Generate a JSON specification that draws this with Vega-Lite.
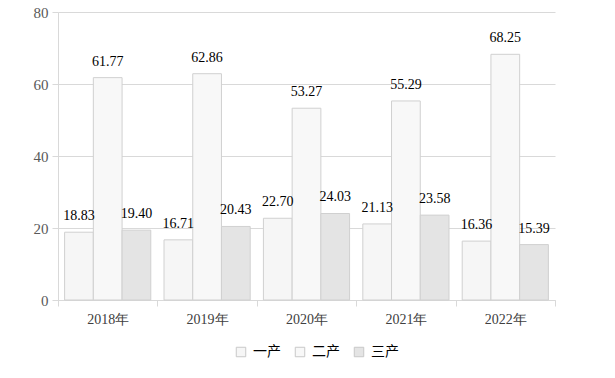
{
  "$schema": "https://vega.github.io/schema/vega-lite/v6.json",
  "width": 497,
  "height": 288,
  "autosize": "none",
  "padding": {"left": 58, "top": 12, "right": 60, "bottom": 78},
  "background": "white",
  "data": {
    "values": [
      {"year": "2018年", "type": "一产", "value": 18.83},
      {"year": "2018年", "type": "二产", "value": 61.77},
      {"year": "2018年", "type": "三产", "value": 19.40},
      {"year": "2019年", "type": "一产", "value": 16.71},
      {"year": "2019年", "type": "二产", "value": 62.86},
      {"year": "2019年", "type": "三产", "value": 20.43},
      {"year": "2020年", "type": "一产", "value": 22.70},
      {"year": "2020年", "type": "二产", "value": 53.27},
      {"year": "2020年", "type": "三产", "value": 24.03},
      {"year": "2021年", "type": "一产", "value": 21.13},
      {"year": "2021年", "type": "二产", "value": 55.29},
      {"year": "2021年", "type": "三产", "value": 23.58},
      {"year": "2022年", "type": "一产", "value": 16.36},
      {"year": "2022年", "type": "二产", "value": 68.25},
      {"year": "2022年", "type": "三产", "value": 15.39}
    ]
  },
  "encoding": {
    "x": {
      "field": "year", "type": "nominal", "sort": null,
      "scale": {"paddingInner": 0, "paddingOuter": 0},
      "axis": {
        "title": null, "labelAngle": 0, "tickBand": "extent",
        "domainColor": "#d9d9d9", "tickColor": "#d9d9d9", "tickSize": 6,
        "labelFont": "Liberation Serif", "labelFontSize": 14, "labelColor": "#404040",
        "labelPadding": 6
      }
    },
    "xOffset": {
      "field": "type", "type": "nominal", "sort": ["一产", "二产", "三产"],
      "scale": {"paddingInner": 0, "paddingOuter": 0.23}
    },
    "y": {
      "field": "value", "type": "quantitative",
      "scale": {"domain": [0, 80], "nice": false},
      "axis": {
        "title": null, "values": [0, 20, 40, 60, 80],
        "domainColor": "#d9d9d9", "tickColor": "#d9d9d9", "gridColor": "#d9d9d9",
        "tickSize": 6, "labelPadding": 4,
        "labelFont": "Liberation Serif", "labelFontSize": 15, "labelColor": "#595959"
      }
    }
  },
  "layer": [
    {
      "mark": {"type": "bar", "stroke": "#d0d0d0", "strokeWidth": 1},
      "encoding": {
        "fill": {
          "field": "type", "type": "nominal", "sort": ["一产", "二产", "三产"],
          "scale": {"domain": ["一产", "二产", "三产"], "range": ["#f6f6f6", "#f8f8f8", "#e4e4e4"]},
          "legend": {
            "title": null, "orient": "none", "direction": "horizontal",
            "legendX": 176, "legendY": 333,
            "symbolType": "square", "symbolSize": 90, "symbolStrokeColor": "#c8c8c8", "symbolStrokeWidth": 1,
            "labelFont": "Noto Sans CJK SC", "labelFontSize": 14, "labelColor": "#000000",
            "labelOffset": 5, "columnPadding": 12
          }
        }
      }
    },
    {
      "mark": {"type": "text", "baseline": "alphabetic", "dy": -12, "font": "Liberation Serif", "fontSize": 14, "color": "#000000"},
      "encoding": {
        "text": {"field": "value", "type": "quantitative", "format": ".2f"}
      }
    }
  ],
  "config": {"view": {"stroke": null}}
}
